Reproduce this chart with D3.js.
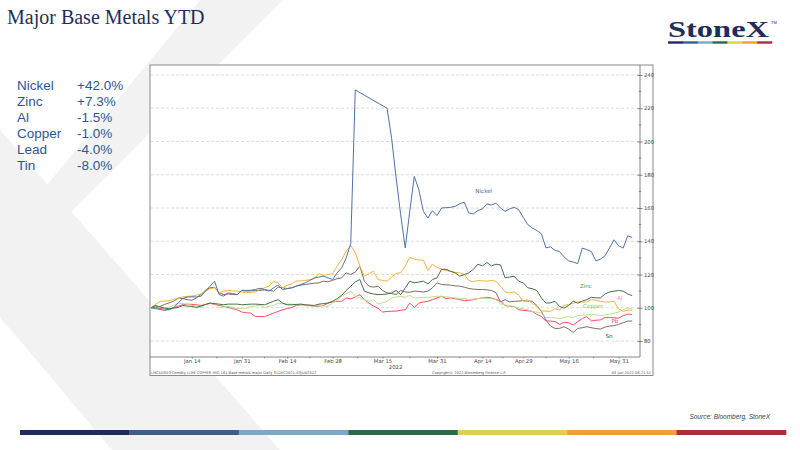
<!DOCTYPE html>
<meta charset="utf-8">
<style>
body { margin: 0; background: #fff; }
svg { display: block; font-family: "Liberation Sans", Arial, sans-serif; }
.grid line { stroke: #c4c4c4; stroke-width: 0.6; stroke-dasharray: 3,2; }
.axis text { font-family: "DejaVu Sans", Tahoma, sans-serif; font-size: 5.3px; fill: #444; }
.axis path, .axis line { stroke: #666; stroke-width: 0.8; }
.series { fill: none; stroke-width: 1; stroke-linejoin: round; }
</style>
<svg id="chart" width="800" height="450"></svg>
<script src="https://d3js.org/d3.v7.min.js"></script>
<script>

// Rebased to 100 at 31 Dec 2021, one value per LME trading day (index 0..106)
var metals = ["Nickel", "Zinc", "Al", "Copper", "Pb", "Sn"];
var legendNames = ["Nickel", "Zinc", "Al", "Copper", "Lead", "Tin"];
var legendChange = ["+42.0%", "+7.3%", "-1.5%", "-1.0%", "-4.0%", "-8.0%"];

var tickDays = [9, 20, 30, 40, 51, 63, 73, 82, 92, 103];
var tickLabels = ["Jan 14", "Jan 31", "Feb 14", "Feb 28", "Mar 15", "Mar 31", "Apr 14", "Apr 29", "May 16", "May 31"];
var yTicks = [80, 100, 120, 140, 160, 180, 200, 220, 240];

// nickel: null where LME nickel trading was suspended (Bloomberg joins the gap)
var nickel = [100, 99.5, 99, 98.4, 99, 100, 103, 105.6, 106.5, 106.6, 106.5, 107, 110, 113, 116, 108, 107, 109, 108.5, 108,
  110.5, 110.5, 110.5, 111, 111.7, 111, 110, 112, 113.7, 111, 111.5, 112, 113, 114, 115, 116.5, 118, 118.5, 119, 118,
  117, 121, 124, 130, 138.7, 231, null, null, null, null, null, null, 220, 202, 178, 156, 136, 158, 179, 171,
  158, 154, 158.4, 155.4, 160, 160.2, 160.4, 161, 162.5, 163.5, 157, 156.4, 158.5, 159.4, 162.5, 161.8, 162.9, 160, 158, 159.5,
  160.4, 159, 154.4, 150, 148, 146.5, 144.5, 136, 136.7, 134.5, 133.8, 130.6, 128.2, 127.5, 126.6, 135.9, 135, 133.8, 128.2, 129.2,
  131.2, 136, 140.9, 137.3, 135.9, 143.3, 142.3];
var zinc = [100, 101.4, 100.5, 99.8, 99.4, 99.8, 100.2, 101.4, 101, 100.8, 100.2, 101, 102, 102.8, 102.5, 102.2, 101.8, 102.2, 102.2, 102.2,
  101.8, 102, 102.2, 102.2, 102, 101.8, 102.8, 104, 104.9, 102.8, 101.8, 101.8, 102, 102.2, 101.8, 101.6, 101.4, 102.2, 102.5, 102.8,
  103.9, 105.5, 107.5, 110.4, 113, 115.5, 117, 110, 109, 108.3, 107.9, 108, 108.3, 109, 110.4, 107.9, 112, 116, 115, 115.5,
  116, 114.4, 117, 118, 123.1, 123.1, 122, 121, 119, 120, 121, 123.1, 126.2, 125.2, 127.2, 125.2, 126.2, 125.8, 118, 118.5,
  119, 116, 115, 112, 111.5, 110.4, 105.9, 102.8, 103, 103.9, 100.8, 99.8, 101.4, 103.9, 102.8, 104, 104.9, 106.3, 106, 105.9,
  108.3, 109.5, 110, 110.4, 110, 108.3, 107.3];
var al = [100, 102, 103.9, 104, 104.3, 105, 105.9, 106.5, 106.9, 107, 107.5, 108.3, 110, 111.5, 112, 109, 110, 110.4, 110.2, 110,
  109.5, 109, 109.3, 109.5, 111, 112, 113, 116, 115, 112, 113.5, 114.4, 116, 116.2, 116.4, 117, 117.5, 120.5, 119.5, 120,
  120.5, 125, 129, 134, 137.4, 133.3, 125, 119, 120.5, 122, 117, 116.5, 116, 118.5, 120.7, 121, 125, 130.3, 129.2, 128.8,
  128.6, 122.5, 126.2, 124.2, 123.3, 122.5, 121.7, 121.3, 121, 120, 116.4, 115.6, 116.4, 116.2, 116, 116.4, 116, 113, 109.5, 109,
  109.5, 107.5, 103.9, 104.9, 102.5, 100.8, 98.2, 98, 97.8, 99.4, 98.8, 101.4, 102, 102.8, 103.5, 103.5, 103.5, 104.9, 104.5, 103.9,
  103.5, 103.5, 103.9, 99.4, 97.8, 98.6, 98.5];
var copper = [100, 101.4, 100.3, 99.8, 100.2, 101.5, 102.8, 102.5, 102.2, 101.4, 101, 100.2, 101.8, 102.5, 102.8, 100.2, 100.5, 100.8, 100.2, 99.6,
  99.4, 99.8, 100.8, 101, 101.4, 100.2, 100.8, 101.4, 102.8, 102.5, 102.2, 102.2, 102, 101.8, 101.4, 101, 100.8, 101.8, 101, 100.8,
  102.8, 104.5, 106.9, 108.5, 110, 106.9, 105.9, 104.9, 103.9, 104.9, 102.2, 103, 103.9, 105.9, 106.5, 106.9, 106.3, 107.5, 105.9, 106,
  106.3, 106.3, 106.6, 106.9, 106.9, 106.6, 106.3, 105.9, 105.7, 105.5, 104.9, 105.2, 105.5, 105.9, 105.7, 105.5, 104.9, 102.2, 101.8, 101.2,
  100.8, 99.8, 99.3, 98.8, 97.8, 97.3, 96.8, 94.1, 94.1, 94, 93.3, 94.2, 94.7, 94.1, 95.3, 95.5, 95.7, 96.1, 95.7, 95.3,
  95.7, 96.2, 96.8, 97.4, 98.8, 99.8, 99.4];
var pb = [100, 100.2, 99.6, 99.2, 98.8, 100, 101, 101.8, 102.2, 102, 101.8, 101.4, 102, 102.8, 102, 101.4, 100.8, 100.2, 99.5, 98.8,
  97.4, 97, 96.8, 94.7, 94.7, 94.7, 95.7, 96.8, 97.8, 98.8, 99.5, 100.2, 101.4, 101.8, 101.6, 101.4, 100.8, 101, 101.4, 102.8,
  103.5, 103.9, 103.9, 105.9, 105.3, 106.5, 107.9, 104.9, 102.8, 101, 99.8, 97.4, 97.8, 97.9, 98, 98.5, 98.8, 102.8, 100.2, 102.8,
  103.5, 103.9, 104.9, 105.9, 106.9, 105.5, 105.9, 105.5, 104.9, 104.3, 104.5, 104.9, 105.5, 106, 106.3, 105.9, 105, 103.9, 101.4, 101,
  100.8, 98.8, 98.5, 98.2, 97.8, 96, 94.7, 92.1, 92, 91.7, 90, 91.3, 91, 89.6, 91.7, 93.5, 94.7, 92.1, 92.5, 92.7,
  94.1, 94.1, 94, 93.7, 95.3, 96.1, 96];
var sn = [100, 100.5, 100.8, 102, 103, 103.9, 105.9, 105.5, 104.9, 104.5, 105.9, 108, 110.5, 112, 112.4, 109, 107.9, 108.3, 108, 107.9,
  110.4, 110, 110.2, 110.4, 110.4, 110.8, 110.5, 110, 112.4, 112, 111.6, 112, 113, 113.6, 114, 114.4, 114.8, 115, 116, 115.6,
  116.5, 117.5, 118, 121, 120, 121.5, 125, 116, 113, 112.4, 113, 110.4, 109, 108.5, 108, 110.4, 109.5, 109.3, 110, 109.8,
  109.5, 110, 112, 115, 114, 113.8, 113.6, 113.2, 113, 112.4, 111.6, 111.2, 111, 111, 110.8, 110.4, 109, 103.5, 104.9, 103.5,
  103.9, 104, 104.3, 104, 103.9, 101.4, 97.8, 92.7, 89, 87.6, 87.6, 88.6, 87.2, 85.2, 87.6, 88, 88.6, 88, 87.5, 87.2,
  88.4, 89, 89.2, 90, 91, 92, 92];

// where the in-chart name of each series sits (trading day, level)
var labelDay = [73.3, 95.8, 103.3, 97.4, 102.2, 100.9];
var labelLevel = [170.2, 113.1, 105.3, 100.5, 92, 83];

var seriesColor = ["#4f74a8", "#46704a", "#f7b13c", "#bfe08a", "#ff4a68", "#7d6e66"];
var labelColor = ["#3e5f95", "#6b8a3a", "#f0a830", "#8cbc5a", "#ff4060", "#4f4038"];
var stripe = ["#1f2b5e", "#3a5e8c", "#7aa8c8", "#2b6a4a", "#dccf52", "#e9a233", "#a8303a"];

var values = [nickel, zinc, al, copper, pb, sn];
var series = metals.map(function(m, k) {
  return { name: m, points: values[k].map(function(v, i) { return { i: i, v: v }; }) };
});

var svg = d3.select("#chart");

// background "X" motif
svg.append("g").attr("fill", "#f2f2f2")
  .selectAll("polygon")
  .data([
    [[200, 0], [283, 0], [0, 283], [0, 242]],
    [[0, 130], [280, 450], [112, 450], [0, 317]]
  ])
  .join("polygon")
  .attr("points", function(d) { return d.join(" "); });

// title
svg.append("text")
  .attr("x", 7).attr("y", 24)
  .style("font-family", "'Liberation Serif', 'Times New Roman', serif")
  .style("font-size", "20px")
  .attr("fill", "#1f2d5c")
  .text("Major Base Metals YTD");

// logo
svg.append("text")
  .attr("x", 668).attr("y", 37)
  .attr("textLength", 101).attr("lengthAdjust", "spacingAndGlyphs")
  .style("font-family", "'Liberation Serif', 'Times New Roman', serif")
  .style("font-size", "24px").style("font-weight", "bold")
  .attr("fill", "#1b3058")
  .text("StoneX");
svg.append("text")
  .attr("x", 771).attr("y", 24)
  .style("font-size", "4px").attr("fill", "#1b3058")
  .text("TM");

function drawStripe(x0, x1, y0, h) {
  var sx = d3.scaleBand().domain(d3.range(stripe.length)).range([x0, x1]);
  svg.append("g").selectAll("rect")
    .data(stripe)
    .join("rect")
    .attr("x", function(d, k) { return sx(k); })
    .attr("y", y0)
    .attr("width", sx.bandwidth() + 0.3)
    .attr("height", h)
    .attr("fill", function(d) { return d; });
}
drawStripe(668, 772, 41.3, 2.4);
drawStripe(20, 786, 430, 5);

// legend table
var legend = svg.append("g")
  .style("font-size", "13.5px")
  .attr("fill", "#2f5597");
legend.selectAll("text.name")
  .data(legendNames)
  .join("text")
  .attr("class", "name")
  .attr("x", 17)
  .attr("y", function(d, k) { return 90 + k * 16; })
  .text(function(d) { return d; });
legend.selectAll("text.chg")
  .data(legendChange)
  .join("text")
  .attr("class", "chg")
  .attr("x", 77)
  .attr("y", function(d, k) { return 90 + k * 16; })
  .text(function(d) { return d; });

// source
svg.append("text")
  .attr("x", 770).attr("y", 419)
  .attr("text-anchor", "end")
  .style("font-size", "6.5px").style("font-style", "italic")
  .attr("fill", "#404040")
  .text("Source: Bloomberg, StoneX");

// ---- Bloomberg chart panel ----
var frame = {left: 150, top: 65, right: 653, bottom: 375.5};
var plot = {left: 150, right: 640, top: 65, bottom: 357};

svg.append("rect")
  .attr("x", frame.left).attr("y", frame.top)
  .attr("width", frame.right - frame.left).attr("height", frame.bottom - frame.top)
  .attr("fill", "#fff").attr("stroke", "#8a8a8a").attr("stroke-width", 1);

var x = d3.scaleLinear().domain([0, 106]).range([151, 632.2]);
var y = d3.scaleLinear().domain([70.4, 246]).range([plot.bottom, plot.top]);

svg.append("g").attr("class", "grid")
  .selectAll("line")
  .data(yTicks)
  .join("line")
  .attr("x1", plot.left + 1).attr("x2", plot.right)
  .attr("y1", function(d) { return y(d); })
  .attr("y2", function(d) { return y(d); });

var yAxis = svg.append("g").attr("class", "axis")
  .attr("transform", "translate(" + plot.right + ",0)")
  .call(d3.axisRight(y).tickValues(yTicks).tickSize(2.5).tickSizeOuter(0).tickPadding(1.5));
yAxis.select(".domain").attr("d", "M0," + plot.top + "V" + plot.bottom);
yAxis.selectAll(".tick line").attr("x1", -2.5);

svg.append("g").attr("class", "axis")
  .selectAll("line")
  .data(yTicks.map(function(d) { return d + 10; }).filter(function(d) { return d < 246; }))
  .join("line")
  .attr("x1", plot.right - 1.2).attr("x2", plot.right + 1.2)
  .attr("y1", function(d) { return y(d); })
  .attr("y2", function(d) { return y(d); });

var xAxis = svg.append("g").attr("class", "axis")
  .attr("transform", "translate(0," + plot.bottom + ")")
  .call(d3.axisBottom(x).tickValues(tickDays)
    .tickFormat(function(d, k) { return tickLabels[k]; })
    .tickSize(1.5).tickSizeOuter(0).tickPadding(0.3));
xAxis.select(".domain").attr("d", "M" + plot.left + ",0H" + plot.right);

svg.append("g").attr("class", "axis")
  .selectAll("line")
  .data(d3.pairs(tickDays).map(function(p) { return (p[0] + p[1]) / 2; }))
  .join("line")
  .attr("x1", function(d) { return x(d); }).attr("x2", function(d) { return x(d); })
  .attr("y1", plot.bottom).attr("y2", plot.bottom + 1.2);

svg.append("text")
  .attr("x", x(51) + 13).attr("y", plot.bottom + 11.8)
  .attr("text-anchor", "middle")
  .style("font-family", "'DejaVu Sans', Tahoma, sans-serif")
  .style("font-size", "5.3px").attr("fill", "#444")
  .text("2022");

var line = d3.line()
  .x(function(d) { return x(d.i); })
  .y(function(d) { return y(d.v); });

// draw back to front so nickel sits on top
svg.append("g")
  .selectAll("path")
  .data(series.slice().reverse())
  .join("path")
  .attr("class", "series")
  .attr("stroke", function(d) { return seriesColor[metals.indexOf(d.name)]; })
  .attr("d", function(d) { return line(d.points.filter(function(p) { return p.v != null; })); });

svg.append("g")
  .style("font-family", "'DejaVu Sans', Tahoma, sans-serif")
  .style("font-size", "5.6px")
  .selectAll("text")
  .data(metals)
  .join("text")
  .attr("x", function(d, k) { return x(labelDay[k]); })
  .attr("y", function(d, k) { return y(labelLevel[k]); })
  .attr("text-anchor", "middle")
  .attr("dominant-baseline", "middle")
  .attr("fill", function(d, k) { return labelColor[k]; })
  .text(function(d) { return d; });

// panel footer
var foot = svg.append("g")
  .style("font-family", "'DejaVu Sans', Tahoma, sans-serif")
  .style("font-size", "3.6px").attr("fill", "#555");
foot.append("text").attr("x", 151).attr("y", 373.8)
  .text("LMCADS03 Comdty (LME COPPER     IMG 161 Base metals major   Daily 31DEC2021-03JUN2022");
foot.append("text").attr("x", 432).attr("y", 373.8)
  .text("Copyright\u00a9 2022 Bloomberg Finance L.P.");
foot.append("text").attr("x", 651).attr("y", 373.8).attr("text-anchor", "end")
  .text("03-Jun-2022 08:21:51");

</script>
